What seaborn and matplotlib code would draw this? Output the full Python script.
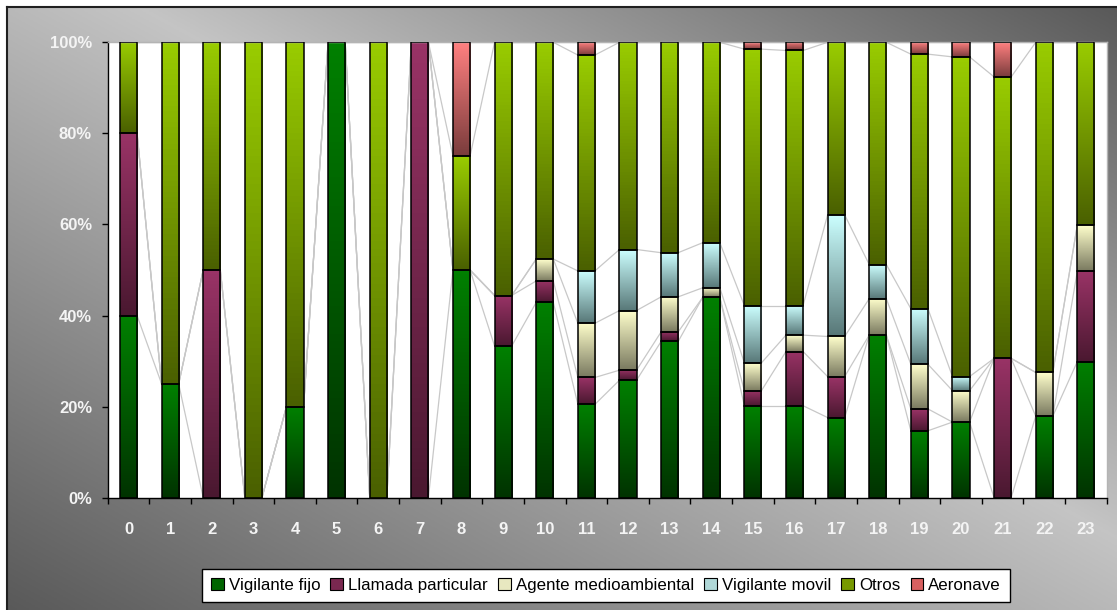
import numpy as np
import matplotlib
matplotlib.use("Agg")
import matplotlib.pyplot as plt
import seaborn as sns
from matplotlib.patches import Patch
from matplotlib.colors import to_rgb

hours = [str(h) for h in range(24)]

vigilante_fijo = [40, 25, 0, 0, 20, 100, 0, 0, 50, 33.3, 42.9, 20.5, 25.8, 34.3, 44.0, 20.2,
                  20.2, 17.6, 35.7, 14.7, 16.6, 0, 17.9, 29.9]
llamada_particular = [40, 0, 50, 0, 0, 0, 0, 100, 0, 11.1, 4.7, 5.9, 2.2, 2.1, 0, 3.3,
                      11.9, 9.0, 0, 4.8, 0, 30.6, 0, 19.9]
agente_medioambiental = [0, 0, 0, 0, 0, 0, 0, 0, 0, 0, 4.8, 11.9, 13.1, 7.7, 2.1, 6.1,
                         3.6, 8.8, 8.0, 9.8, 6.9, 0, 9.6, 10.1]
vigilante_movil = [0, 0, 0, 0, 0, 0, 0, 0, 0, 0, 0, 11.5, 13.4, 9.7, 9.9, 12.6,
                   6.5, 26.7, 7.5, 12.2, 3.1, 0, 0, 0]
otros = [20, 75, 50, 100, 80, 0, 100, 0, 25, 55.6, 47.6, 47.4, 45.5, 46.2, 44.0, 56.3,
         56.0, 37.9, 48.8, 55.9, 70.2, 61.8, 72.5, 40.1]
aeronave = [0, 0, 0, 0, 0, 0, 0, 0, 25, 0, 0, 2.8, 0, 0, 0, 1.5,
            1.8, 0, 0, 2.6, 3.2, 7.6, 0, 0]

series_names = ["Vigilante fijo", "Llamada particular", "Agente medioambiental",
                "Vigilante movil", "Otros", "Aeronave"]
series_values = [vigilante_fijo, llamada_particular, agente_medioambiental,
                 vigilante_movil, otros, aeronave]
# (top colour, bottom colour) of each gradient
grad_colors = [("#008000", "#003300"), ("#993366", "#4a1830"), ("#FFFFCC", "#7a7a60"),
               ("#CCFFFF", "#587878"), ("#99CC00", "#4a6000"), ("#FF8080", "#7a3c3c")]
legend_colors = ["#006400", "#7a2850", "#e8e8c0", "#b0d8d8", "#779900", "#d86060"]

W, H = 1117, 610
fig = plt.figure(figsize=(W / 100, H / 100), dpi=100)
fig.patch.set_facecolor("white")

# chart area with diagonal grey gradient
bg = fig.add_axes([7 / W, 0, 1 - 7 / W, 1 - 7 / H])
gx, gy = np.meshgrid(np.linspace(0, 1, 400), np.linspace(1, 0, 240))
t = (gx + gy) / 2
peak = 0.56
light = np.where(t < peak, t / peak, (1 - t) / (1 - peak))
grey = 0.35 + (0.77 - 0.35) * light
bg.imshow(np.dstack([grey, grey, grey]), aspect="auto", extent=[0, 1, 0, 1])
bg.set_xlim(0, 1)
bg.set_ylim(0, 1)
bg.set_xticks([])
bg.set_yticks([])
for side in ["right", "bottom"]:
    bg.spines[side].set_visible(False)
for side in ["left", "top"]:
    bg.spines[side].set_color("#202020")
    bg.spines[side].set_linewidth(1.5)

ax = fig.add_axes([107.7 / W, 1 - 497.7 / H, 999 / W, 455.4 / H])
ax.set_facecolor("white")

width = 0.41
cum = np.cumsum(np.array(series_values, dtype=float), axis=0)
bottoms = np.vstack([np.zeros(24), cum[:-1]])

# draw cumulative bars, tallest first, then turn each into its own segment
patch_groups = {}
for k in range(len(series_names) - 1, -1, -1):
    n_before = len(ax.patches)
    sns.barplot(x=hours, y=cum[k], ax=ax, width=width, color=grad_colors[k][0],
                errorbar=None, order=hours)
    patch_groups[k] = ax.patches[n_before:]

for k, patches in patch_groups.items():
    top_c = np.array(to_rgb(grad_colors[k][0]))
    bot_c = np.array(to_rgb(grad_colors[k][1]))
    ramp = np.linspace(0, 1, 64)[:, None]
    img = (top_c * (1 - ramp) + bot_c * ramp)[:, None, :]
    for i, p in enumerate(patches):
        seg = series_values[k][i]
        if seg <= 0:
            p.set_visible(False)
            continue
        x0 = p.get_x()
        p.set_y(bottoms[k][i])
        p.set_height(seg)
        p.set_facecolor("none")
        p.set_edgecolor("black")
        p.set_linewidth(1.1)
        p.set_zorder(3)
        im = ax.imshow(img, aspect="auto", zorder=2.5,
                       extent=[x0, x0 + p.get_width(), bottoms[k][i], cum[k][i]])
        im.set_clip_path(p)

# series lines between neighbouring bars
for k in range(len(series_names)):
    for i in range(23):
        ax.plot([i + width / 2, i + 1 - width / 2], [cum[k][i], cum[k][i + 1]],
                color="#c8c8c8", lw=0.9, zorder=1.5)

ax.set_xlim(-0.5, 23.5)
ax.set_ylim(0, 100)
ax.set_xlabel("")
ax.set_ylabel("")
ax.set_yticks(range(0, 101, 20))
ax.set_yticklabels([f"{v}%" for v in range(0, 101, 20)])
ax.set_xticks(range(24))
ax.set_xticklabels(hours)
ax.set_xticks(np.arange(-0.5, 24, 1), minor=True)
ax.tick_params(axis="x", which="major", length=0, pad=17.5)
ax.tick_params(axis="x", which="minor", length=4.3, width=1, color="black", direction="out")
ax.tick_params(axis="y", length=4.3, width=1, color="black", direction="out", pad=7)
for lab in ax.get_xticklabels() + ax.get_yticklabels():
    lab.set_fontfamily(["Liberation Sans", "DejaVu Sans"])
    lab.set_fontweight("bold")
    lab.set_fontsize(12)
    lab.set_color("#f4f4f4")
for side in ["left", "bottom"]:
    ax.spines[side].set_color("black")
    ax.spines[side].set_linewidth(1)
for side in ["top", "right"]:
    ax.spines[side].set_color("#b4b4b4")
    ax.spines[side].set_linewidth(1)

handles = [Patch(facecolor=c, edgecolor="black", linewidth=0.8) for c in legend_colors]
leg = fig.legend(handles, series_names, loc="center", ncol=6,
                 bbox_to_anchor=(606 / W, 1 - 585.5 / H), frameon=True, fancybox=False,
                 edgecolor="black", facecolor="white", framealpha=1,
                 handlelength=0.75, handleheight=0.75, handletextpad=0.3,
                 columnspacing=0.6, borderpad=0.5,
                 prop={"family": ["Liberation Sans Narrow", "Liberation Sans"], "size": 12.2})
leg.get_frame().set_linewidth(1)

fig.savefig("out.png", dpi=100)
